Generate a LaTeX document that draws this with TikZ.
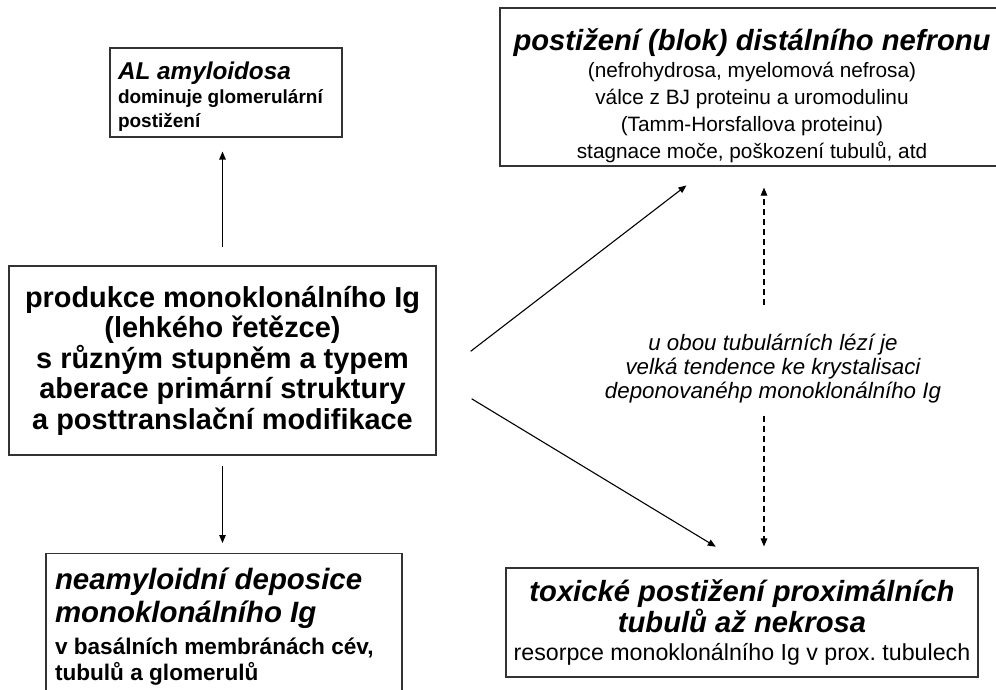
\documentclass[tikz,border=0pt]{standalone}
\usepackage{fontspec}
\setmainfont{Liberation Sans}
\usetikzlibrary{arrows.meta}

% word spacing is set again after every size change
\newcommand{\wsp}{\spaceskip=.278em\relax\xspaceskip=\spaceskip}
\newcommand{\ttlfont}{\fontsize{29.2pt}{30pt}\selectfont\bfseries\itshape\wsp}
\newcommand{\prodfont}{\fontsize{28.9pt}{30.5pt}\selectfont\bfseries\wsp}
\newcommand{\subrfont}{\fontsize{20.8pt}{27pt}\selectfont\wsp}
\newcommand{\notefont}{\fontsize{22.3pt}{24pt}\selectfont\itshape\wsp}

\begin{document}
\begin{tikzpicture}[x=1pt,y=-1pt,
    box/.style={draw=black!80, line width=1.1pt, inner xsep=8pt, inner ysep=0pt},
    arr/.style={-{Triangle[length=8pt,width=6.5pt]}, line width=1.1pt},
    dasharr/.style={arr, dash pattern=on 6pt off 4pt}]
\clip (0,0) rectangle (996,690);

\node[box, minimum width=232pt, minimum height=89pt, text width=216pt, align=left] (al) at (226,92.5)
    {{\fontsize{24.3pt}{26pt}\selectfont\bfseries\itshape\wsp\rule{0pt}{26pt}AL amyloidosa\par}
     {\fontsize{19pt}{24pt}\selectfont\bfseries\wsp dominuje glomerulární\\ postižení\par}};
\node[box, minimum width=504pt, minimum height=158pt, text width=496pt, inner xsep=4pt, align=center] (distal) at (752,87)
    {{\ttlfont\rule{0pt}{40pt}postižení (blok) distálního nefronu\par}
     {\subrfont (nefrohydrosa, myelomová nefrosa)\\ válce z BJ proteinu a uromodulinu\\
      (Tamm-Horsfallova proteinu)\\ stagnace moče, poškození tubulů, atd\par}};
\node[box, minimum width=427pt, minimum height=189pt, text width=419pt, inner xsep=4pt, align=center] (prod) at (222.5,360.5)
    {\prodfont produkce monoklonálního Ig\\ (lehkého řetězce)\\ s různým stupněm a typem\\
     aberace primární struktury\\ a posttranslační modifikace\par};
\node[box, anchor=north, minimum width=356pt, text width=338pt, inner xsep=9pt, inner ysep=14pt, align=left] (neam) at (224,553)
    {{\fontsize{29.4pt}{33pt}\selectfont\bfseries\itshape\wsp neamyloidní deposice\\ monoklonálního Ig\par}
     \vspace{6pt}{\fontsize{22.6pt}{26pt}\selectfont\bfseries\wsp v basálních membránách cév,\\ tubulů a glomerulů\par}
     \vspace*{30pt}};
\node[box, minimum width=472pt, minimum height=109pt, text width=468pt, inner xsep=2pt, align=center] (toxic) at (742,622.5)
    {{\fontsize{29.2pt}{28pt}\selectfont\bfseries\itshape\wsp toxické postižení proximálních\\ tubulů až nekrosa\par}
     {\fontsize{23.2pt}{28pt}\selectfont\wsp resorpce monoklonálního Ig v prox. tubulech\par}};
\node[text width=380pt, align=center, inner sep=0pt] (note) at (773,369)
    {\notefont u obou tubulárních lézí je\\ velká tendence ke krystalisaci\\ deponovanéhp monoklonálního Ig\par};

\coordinate (fork) at ([yshift=-17pt]prod.east);

\draw[arr, shorten <=18pt, shorten >=14pt] (prod.north) -- (prod.north |- al.south);
\draw[arr, shorten <=10pt, shorten >=10pt] (prod.south) -- (prod.south |- neam.north);
\draw[arr, shorten <=43pt, shorten >=31pt] (fork) -- ([xshift=-41pt]distal.south);
\draw[arr, shorten <=41pt, shorten >=40pt] (fork) -- ([xshift=8pt]toxic.north);
\draw[dasharr, shorten <=29pt, shorten >=21pt] ([xshift=-9pt]note.north) -- ([xshift=-9pt]note.north |- distal.south);
\draw[dasharr, shorten <=12pt, shorten >=21pt] ([xshift=-9pt]note.south) -- ([xshift=-9pt]note.south |- toxic.north);
\end{tikzpicture}
\end{document}
